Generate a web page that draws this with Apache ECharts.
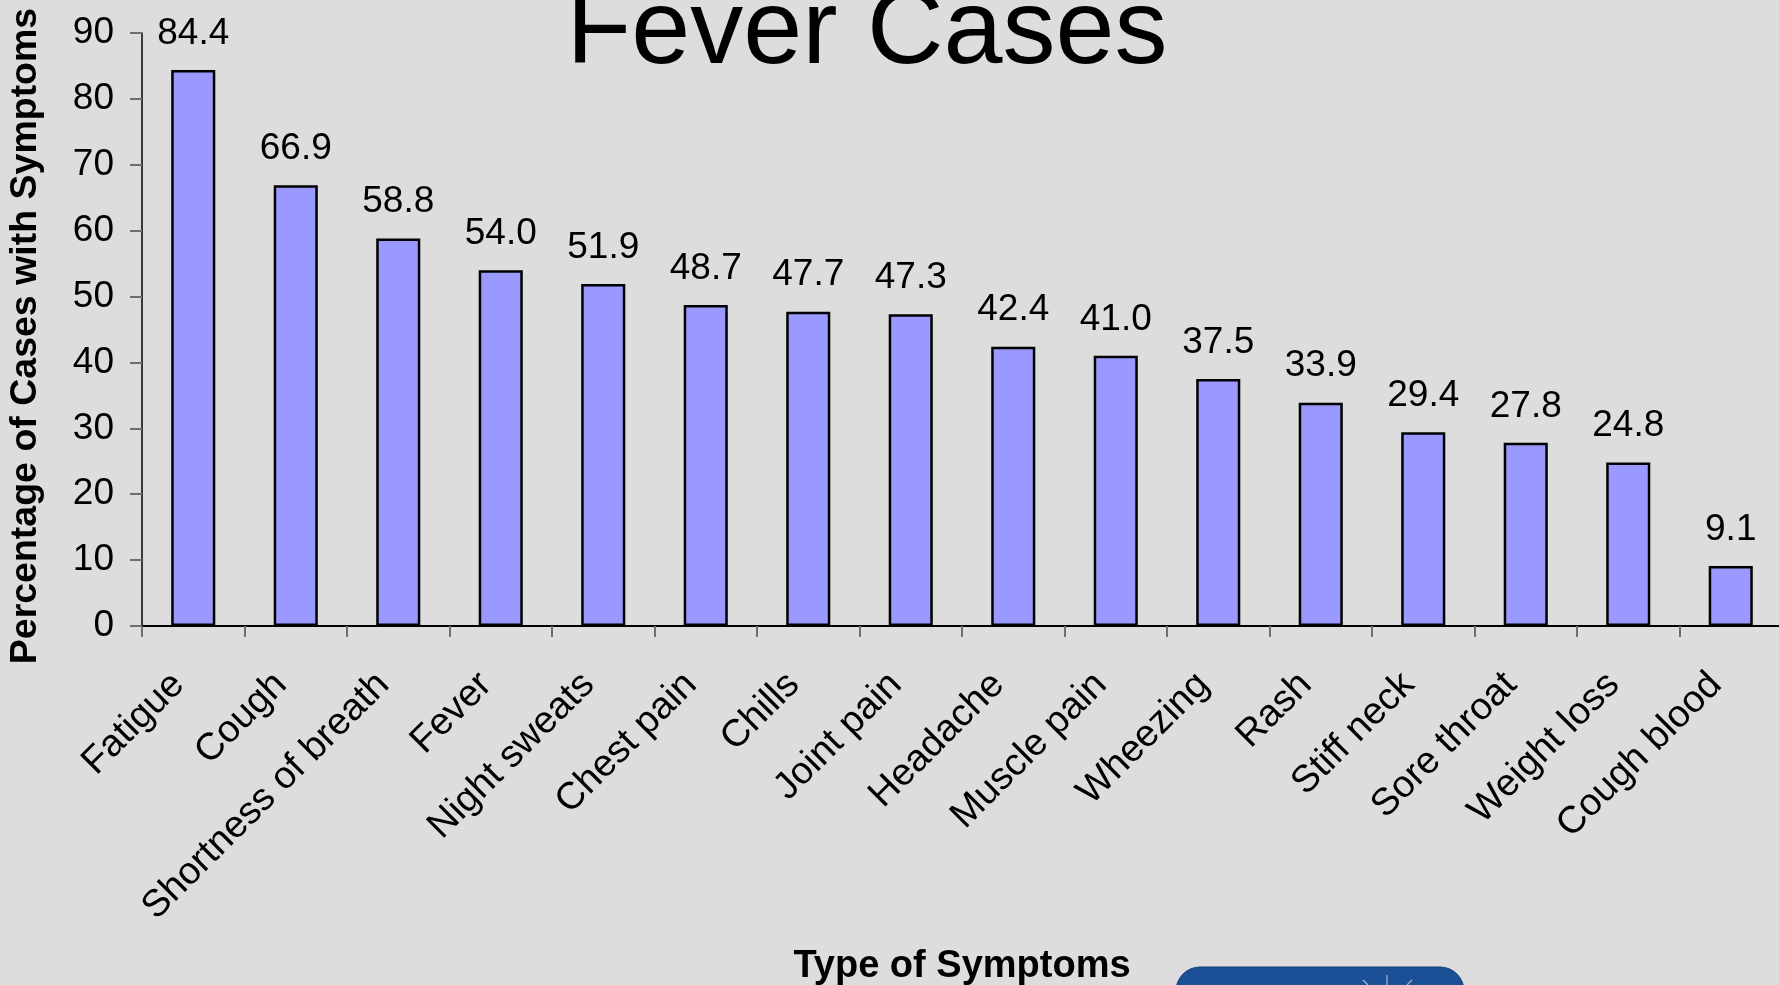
<!DOCTYPE html>
<html>
<head>
<meta charset="utf-8">
<title>Fever Cases</title>
<script src="https://cdn.jsdelivr.net/npm/echarts@6/dist/echarts.min.js"></script>
<style>
  html, body { margin: 0; padding: 0; background: #dddddd; }
  #chart { width: 1779px; height: 985px; }
</style>
</head>
<body>
<div id="chart"></div>
<script>
// Symptom categories, ordered by frequency
const symptoms = [
  'Fatigue', 'Cough', 'Shortness of breath', 'Fever', 'Night sweats',
  'Chest pain', 'Chills', 'Joint pain', 'Headache', 'Muscle pain',
  'Wheezing', 'Rash', 'Stiff neck', 'Sore throat', 'Weight loss', 'Cough blood'
];
// Percentage of cases reporting each symptom
const percentages = [
  84.4, 66.9, 58.8, 54.0, 51.9, 48.7, 47.7, 47.3,
  42.4, 41.0, 37.5, 33.9, 29.4, 27.8, 24.8, 9.1
];
const yTicks = { min: 0, max: 90, step: 10 };

const FONT = '"Liberation Sans", Arial, Helvetica, sans-serif';

const chart = echarts.init(document.getElementById('chart'), null, { renderer: 'canvas' });

chart.setOption({
  backgroundColor: '#dddddd',
  animation: false,
  textStyle: { fontFamily: FONT, color: '#000' },
  grid: {
    left: 142, right: -3, top: 33, bottom: 359,
    containLabel: false, outerBoundsMode: 'none'
  },
  xAxis: {
    type: 'category',
    data: symptoms,
    name: 'Type of Symptoms',
    nameLocation: 'middle',
    nameGap: 322,
    nameMoveOverlap: false,
    nameTextStyle: { fontFamily: FONT, fontSize: 38, fontWeight: 'bold', color: '#000' },
    axisLine: { show: true, lineStyle: { color: '#000', width: 2 } },
    axisTick: { show: true, alignWithLabel: false, length: 11, lineStyle: { color: '#6e6e6e', width: 2 } },
    axisLabel: {
      interval: 0, rotate: 45, margin: 38,
      padding: [0, 21, 0, 0],
      fontFamily: FONT, fontSize: 38, color: '#000'
    },
    splitLine: { show: false }
  },
  yAxis: {
    type: 'value',
    min: yTicks.min, max: yTicks.max, interval: yTicks.step,
    name: 'Percentage of Cases with Symptoms',
    nameLocation: 'middle',
    nameGap: 97,
    nameMoveOverlap: false,
    nameTextStyle: {
      fontFamily: FONT, fontSize: 37.5, fontWeight: 'bold', color: '#000',
      padding: [0, 13, 0, 0]
    },
    axisLine: { show: true, lineStyle: { color: '#000', width: 1.5 } },
    axisTick: { show: true, length: 12, lineStyle: { color: '#6e6e6e', width: 2 } },
    axisLabel: { margin: 28, fontFamily: FONT, fontSize: 37, color: '#000' },
    splitLine: { show: false }
  },
  series: [{
    type: 'bar',
    data: percentages,
    barWidth: '43%',
    itemStyle: { color: '#9999ff', borderColor: '#000', borderWidth: 2.5 },
    label: {
      show: true, position: 'top', distance: 18,
      fontFamily: FONT, fontSize: 37, color: '#000',
      formatter: p => p.value.toFixed(1)
    }
  }],
  graphic: [
    {
      type: 'text',
      style: {
        text: 'Fever Cases',
        x: 867, y: 34,
        align: 'center', verticalAlign: 'middle',
        fontFamily: FONT, fontSize: 106, fill: '#000'
      }
    },
    // badge in the lower right corner
    {
      type: 'rect',
      shape: { x: 1176, y: 967, width: 288, height: 60, r: 24 },
      style: { fill: '#1b4f96', stroke: '#163f7a', lineWidth: 1 }
    },
    {
      type: 'group',
      children: [
        { type: 'line', shape: { x1: 1363, y1: 980, x2: 1368, y2: 985 }, style: { stroke: '#a9b6cc', lineWidth: 1.2 } },
        { type: 'line', shape: { x1: 1387, y1: 975, x2: 1387, y2: 985 }, style: { stroke: '#a9b6cc', lineWidth: 1.2 } },
        { type: 'line', shape: { x1: 1412, y1: 980, x2: 1407, y2: 985 }, style: { stroke: '#a9b6cc', lineWidth: 1.2 } }
      ]
    }
  ]
});
</script>
</body>
</html>
